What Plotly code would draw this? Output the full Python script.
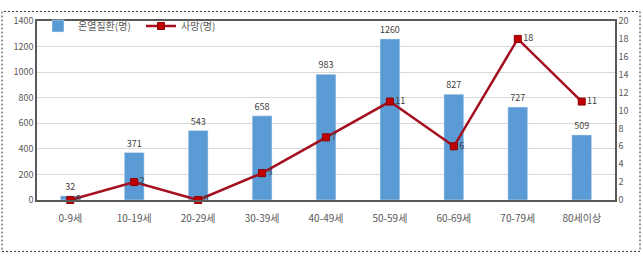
import plotly.graph_objects as go

categories = ["0-9세", "10-19세", "20-29세", "30-39세", "40-49세", "50-59세", "60-69세", "70-79세", "80세이상"]
illness = [32, 371, 543, 658, 983, 1260, 827, 727, 509]
deaths = [0, 2, 0, 3, 7, 11, 6, 18, 11]
left_ticks = [0, 200, 400, 600, 800, 1000, 1200, 1400]
right_ticks = [0, 2, 4, 6, 8, 10, 12, 14, 16, 18, 20]

FONT = "Noto Sans CJK KR"
fig = go.Figure()
fig.add_trace(go.Bar(
    x=categories, y=illness, name="온열질환(명)", marker_color="#5B9BD5",
    width=0.31, text=[str(v) for v in illness], textposition="outside",
    textfont=dict(size=9, color="#404040", family=FONT), cliponaxis=False,
))
fig.add_trace(go.Scatter(
    x=categories, y=deaths, name="사망(명)", yaxis="y2", mode="lines+markers+text",
    line=dict(color="#A50E1E", width=2.5),
    marker=dict(symbol="square", size=7, color="#C00000", line=dict(color="#8B0000", width=1)),
    text=[str(v) for v in deaths], textposition="middle right",
    textfont=dict(size=9, color="#404040", family=FONT), cliponaxis=False,
))

L, R, T, B = 37, 28, 12, 57
W, H = 643, 257
pw, ph = W - L - R, H - T - B
def px(x): return (x - L) / pw
def py(y): return (H - B - y) / ph

fig.update_layout(
    width=W, height=H, margin=dict(l=L, r=R, t=T, b=B),
    paper_bgcolor="white", plot_bgcolor="white",
    font=dict(family=FONT, size=9, color="#595959"),
    showlegend=True,
    legend=dict(orientation="h", x=px(38), y=py(2), xanchor="left", yanchor="top",
                font=dict(size=10, color="#595959", family=FONT), bgcolor="rgba(0,0,0,0)",
                entrywidth=58, entrywidthmode="pixels", tracegroupgap=0),
    bargap=0.69,
    xaxis=dict(showline=True, linecolor="#595959", linewidth=1.5, mirror=True,
               tickfont=dict(size=10, color="#595959"), ticks="", ticklabelstandoff=8),
    yaxis=dict(range=[0, 1400], tickvals=left_ticks, showgrid=True, gridcolor="#D9D9D9",
               showline=True, linecolor="#595959", linewidth=1.5, ticks="", zeroline=False,
               tickfont=dict(size=9, color="#595959")),
    yaxis2=dict(range=[0, 20], tickvals=right_ticks, overlaying="y", side="right",
                showgrid=False, showline=True, linecolor="#595959", linewidth=1.5, ticks="",
                zeroline=False, tickfont=dict(size=9, color="#595959")),
    shapes=[dict(type="rect", xref="paper", yref="paper", x0=px(2), x1=px(640), y0=py(254), y1=py(2),
                 line=dict(color="#333333", width=1, dash="2px,2px"), layer="above")],
)
fig.write_html("out.html")
